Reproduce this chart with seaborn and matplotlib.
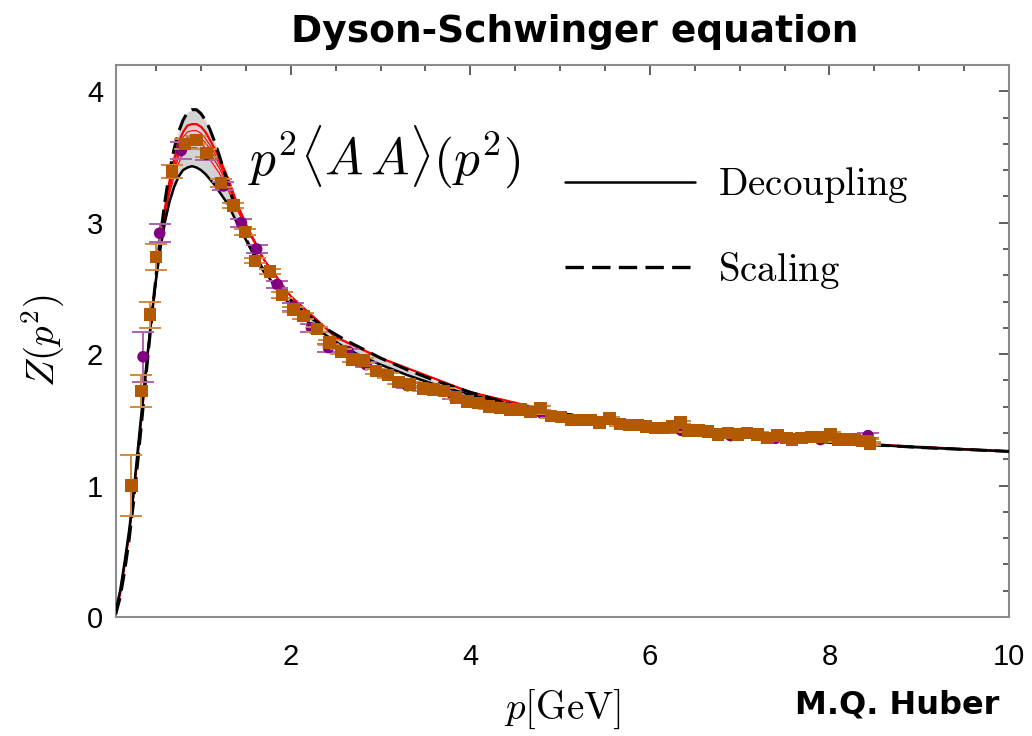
import numpy as np
import pandas as pd
import matplotlib
matplotlib.use("Agg")
import matplotlib.pyplot as plt
import seaborn as sns
from matplotlib.ticker import MultipleLocator
from matplotlib.lines import Line2D

# ---- curves ----
curve_x = [0.05, 0.1, 0.15, 0.2, 0.25, 0.3, 0.35, 0.4, 0.45, 0.5, 0.55, 0.6, 0.65, 0.7,
           0.75, 0.8, 0.85, 0.9, 0.95, 1.0, 1.05, 1.1, 1.15, 1.2, 1.25, 1.3, 1.4, 1.5,
           1.6, 1.7, 1.8, 1.9, 2.0, 2.2, 2.4, 2.6, 2.8, 3.0, 3.3, 3.6, 4.0, 4.5, 5.0,
           5.5, 6.0, 7.0, 8.0, 9.0, 10.0]
decoupling_y = [0.05, 0.20, 0.42, 0.66, 0.95, 1.30, 1.64, 1.97, 2.29, 2.57, 2.81, 3.01, 3.16, 3.27,
                3.35, 3.40, 3.42, 3.43, 3.42, 3.40, 3.37, 3.33, 3.29, 3.24, 3.19, 3.14, 3.00, 2.87,
                2.75, 2.64, 2.54, 2.45, 2.37, 2.24, 2.14, 2.05, 1.98, 1.92, 1.84, 1.77, 1.69, 1.61, 1.54,
                1.49, 1.45, 1.38, 1.33, 1.29, 1.26]
scaling_y = [0.02, 0.15, 0.35, 0.59, 0.88, 1.21, 1.56, 1.92, 2.27, 2.60, 2.91, 3.17, 3.39, 3.56,
             3.69, 3.78, 3.84, 3.86, 3.86, 3.83, 3.78, 3.71, 3.62, 3.52, 3.41, 3.30, 3.07, 2.88,
             2.74, 2.63, 2.54, 2.47, 2.41, 2.29, 2.19, 2.11, 2.04, 1.97, 1.88, 1.80, 1.71, 1.61, 1.55,
             1.50, 1.46, 1.39, 1.33, 1.29, 1.26]

# red curves (intermediate truncations)
red_x = [0.05, 0.1, 0.2, 0.3, 0.4, 0.5, 0.6, 0.65, 0.7, 0.75, 0.8, 0.85, 0.9, 0.95, 1.0,
         1.05, 1.1, 1.2, 1.3, 1.4, 1.5, 1.7, 2.0, 2.5, 3.0, 4.0, 5.0, 6.0, 8.0, 10.0]
red_1 = [0.04, 0.18, 0.63, 1.26, 1.95, 2.58, 3.05, 3.22, 3.35, 3.45, 3.52, 3.56, 3.57, 3.57, 3.55,
         3.52, 3.48, 3.38, 3.25, 3.10, 2.96, 2.72, 2.44, 2.13, 1.97, 1.71, 1.55, 1.46, 1.33, 1.26]
red_2 = [0.04, 0.18, 0.63, 1.26, 1.95, 2.58, 3.07, 3.25, 3.39, 3.50, 3.57, 3.61, 3.62, 3.62, 3.60,
         3.57, 3.53, 3.42, 3.28, 3.12, 2.97, 2.72, 2.44, 2.13, 1.97, 1.71, 1.55, 1.46, 1.33, 1.26]
red_3 = [0.04, 0.18, 0.63, 1.26, 1.95, 2.58, 3.08, 3.27, 3.42, 3.53, 3.61, 3.65, 3.66, 3.66, 3.64,
         3.61, 3.56, 3.45, 3.30, 3.13, 2.98, 2.72, 2.44, 2.13, 1.97, 1.71, 1.55, 1.46, 1.33, 1.26]
red_4 = [0.04, 0.18, 0.63, 1.26, 1.95, 2.58, 3.10, 3.29, 3.45, 3.57, 3.65, 3.69, 3.70, 3.70, 3.68,
         3.64, 3.59, 3.47, 3.32, 3.14, 2.98, 2.72, 2.44, 2.13, 1.97, 1.71, 1.55, 1.46, 1.33, 1.26]
red_5 = [0.04, 0.18, 0.63, 1.26, 1.95, 2.58, 3.12, 3.32, 3.48, 3.61, 3.69, 3.74, 3.75, 3.75, 3.73,
         3.69, 3.63, 3.50, 3.34, 3.15, 2.99, 2.72, 2.44, 2.13, 1.97, 1.71, 1.55, 1.46, 1.33, 1.26]

# ---- lattice data ----
sq_x = [0.225, 0.336, 0.43, 0.50, 0.68, 0.82, 0.95, 1.06, 1.22, 1.36, 1.49, 1.60, 1.77, 1.90,
        2.03, 2.14, 2.29, 2.43, 2.56, 2.69, 2.81, 2.95, 3.08, 3.20, 3.33, 3.47, 3.59, 3.71,
        3.84, 3.97, 4.09, 4.21, 4.33, 4.44, 4.56, 4.67, 4.78, 4.90, 5.01, 5.12, 5.24, 5.34,
        5.44, 5.55, 5.67, 5.77, 5.87, 5.96, 6.06, 6.16, 6.25, 6.34, 6.43, 6.54, 6.65, 6.76,
        6.87, 6.98, 7.08, 7.20, 7.31, 7.42, 7.52, 7.58, 7.69, 7.80, 7.91, 8.01, 8.10, 8.19,
        8.28, 8.36, 8.43, 8.45]
sq_y = [1.00, 1.72, 2.30, 2.74, 3.39, 3.60, 3.63, 3.53, 3.30, 3.13, 2.93, 2.71, 2.63, 2.45,
        2.34, 2.29, 2.19, 2.09, 2.02, 1.96, 1.95, 1.87, 1.84, 1.79, 1.77, 1.74, 1.73, 1.72,
        1.67, 1.64, 1.63, 1.60, 1.59, 1.58, 1.58, 1.56, 1.59, 1.53, 1.52, 1.50, 1.50, 1.50,
        1.48, 1.51, 1.47, 1.46, 1.46, 1.45, 1.44, 1.44, 1.45, 1.48, 1.42, 1.42, 1.41, 1.39,
        1.40, 1.39, 1.40, 1.39, 1.36, 1.38, 1.36, 1.35, 1.36, 1.37, 1.37, 1.39, 1.35, 1.35,
        1.35, 1.34, 1.34, 1.32]
sq_err = [0.23, 0.12, 0.10, 0.10, 0.05, 0.04, 0.03, 0.03, 0.03, 0.02, 0.02, 0.02, 0.02, 0.02,
          0.02, 0.02, 0.02, 0.02, 0.02, 0.02, 0.02, 0.02, 0.02, 0.02, 0.02, 0.02, 0.02, 0.02,
          0.015, 0.015, 0.015, 0.015, 0.015, 0.015, 0.015, 0.015, 0.015, 0.015, 0.015, 0.015,
          0.015, 0.015, 0.015, 0.015, 0.015, 0.015, 0.015, 0.015, 0.015, 0.015, 0.015, 0.015,
          0.015, 0.015, 0.015, 0.015, 0.015, 0.015, 0.015, 0.015, 0.015, 0.015, 0.015, 0.015,
          0.015, 0.015, 0.015, 0.015, 0.015, 0.015, 0.015, 0.015, 0.015, 0.015]

circ_x = [0.355, 0.54, 0.78, 1.06, 1.25, 1.45, 1.62, 1.85, 2.03, 2.23, 2.42, 2.64, 2.84,
          3.30, 3.81, 4.30, 4.80, 5.30, 5.80, 6.35, 6.90, 7.40, 7.90, 8.43]
circ_y = [1.98, 2.92, 3.55, 3.52, 3.28, 3.00, 2.80, 2.53, 2.36, 2.20, 2.05, 2.02, 1.92,
          1.76, 1.68, 1.60, 1.55, 1.50, 1.46, 1.42, 1.38, 1.36, 1.35, 1.38]
circ_err = [0.19, 0.07, 0.065, 0.04, 0.03, 0.03, 0.03, 0.03, 0.03, 0.03, 0.03, 0.02, 0.02,
            0.02, 0.02, 0.02, 0.02, 0.02, 0.02, 0.02, 0.02, 0.02, 0.02, 0.02]

sns.set_theme(style="white")
plt.rcParams["mathtext.fontset"] = "cm"
plt.rcParams["font.family"] = ["Liberation Sans", "DejaVu Sans"]
plt.rcParams["text.color"] = "black"
plt.rcParams["axes.labelcolor"] = "black"

fig = plt.figure(figsize=(10.32, 7.36), dpi=100)
ax = fig.add_axes([0.1121, 0.1617, 0.8656, 0.75])

orange = "#b35a00"
purple = "#800080"
dash = (0, (5.5, 2.5))

# band between decoupling and scaling
ax.fill_between(curve_x, decoupling_y, scaling_y, color="#d3d3d3", lw=0, zorder=1)

for i, ry in enumerate([red_1, red_2, red_3, red_4, red_5]):
    sns.lineplot(x=red_x, y=ry, ax=ax, color="red", lw=1.6 if i == 4 else 0.8,
                 sort=False, estimator=None, zorder=2)

sns.lineplot(x=curve_x, y=decoupling_y, ax=ax, color="black", lw=1.8,
             sort=False, estimator=None, zorder=3)
sns.lineplot(x=curve_x, y=scaling_y, ax=ax, color="black", lw=2.2,
             linestyle=dash, sort=False, estimator=None, zorder=3)

# lattice points
ax.errorbar(circ_x, circ_y, yerr=circ_err, fmt="none", ecolor="#b060b0",
            elinewidth=1.4, capsize=8, capthick=1.4, zorder=4)
sns.scatterplot(x=circ_x, y=circ_y, ax=ax, color=purple, s=70, marker="o",
                edgecolor="none", zorder=5)
ax.errorbar(sq_x, sq_y, yerr=sq_err, fmt="none", ecolor="#d08a40",
            elinewidth=1.4, capsize=8, capthick=1.4, zorder=6)
sns.scatterplot(x=sq_x, y=sq_y, ax=ax, color=orange, s=80, marker="s",
                edgecolor="none", zorder=7)

ax.set_xlim(0.05, 10)
ax.set_ylim(0, 4.2)
ax.set_xticks([2, 4, 6, 8, 10])
ax.set_yticks([0, 1, 2, 3, 4])
ax.xaxis.set_minor_locator(MultipleLocator(0.5))
ax.yaxis.set_minor_locator(MultipleLocator(0.2))
ax.tick_params(which="both", direction="in", top=True, right=True, color="#444444",
               width=1.2, labelsize=21, labelcolor="black")
ax.tick_params(which="major", length=7)
ax.tick_params(which="minor", length=4.5)
ax.tick_params(axis="x", pad=19)
ax.tick_params(axis="y", pad=9)
for s in ax.spines.values():
    s.set_color("#8c8c8c")
    s.set_linewidth(1.5)

ax.set_xlabel(r"$p[\mathrm{GeV}]$", fontsize=28, labelpad=12)
ax.set_ylabel(r"$Z(p^2)$", fontsize=28, labelpad=14)

ax.text(1.52, 3.5, r"$p^2\langle A\,A\rangle(p^2)$", fontsize=37, va="center", ha="left")

handles = [Line2D([], [], color="black", lw=1.8),
           Line2D([], [], color="black", lw=2.4, linestyle=dash)]
ax.legend(handles, [r"$\mathrm{Decoupling}$", r"$\mathrm{Scaling}$"], loc="upper left",
          bbox_to_anchor=(0.464, 0.882), frameon=False, fontsize=28, handlelength=3.34,
          handletextpad=0.6, labelspacing=1.15)

fig.text(0.557, 0.957, "Dyson-Schwinger equation", ha="center", va="center",
         fontsize=27, fontweight="bold", family="DejaVu Sans")
fig.text(0.869, 0.042, "M.Q. Huber", ha="center", va="center",
         fontsize=23, fontweight="bold", family="DejaVu Sans")

fig.savefig("out.png", dpi=100)
